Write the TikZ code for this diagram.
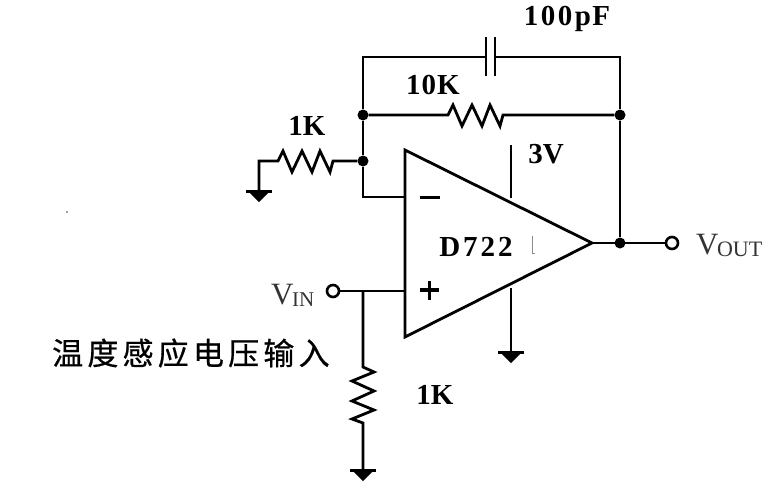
\documentclass[tikz,border=0pt]{standalone}
\usepackage{fontspec}
\setmainfont{Liberation Serif}
\newfontfamily\cjk[FakeBold=0.6]{Noto Sans CJK SC}
\usetikzlibrary{calc}
\newcommand{\zigH}{-- ++(5,-10) -- ++(9,21) -- ++(10,-21) -- ++(10,21) -- ++(8,-21) -- ++(10,21) -- ++(3,-11)}
\newcommand{\zigV}{-- ++(11,5) -- ++(-22,9) -- ++(22,10) -- ++(-22,10) -- ++(22,9) -- ++(-22,9) -- ++(11,4)}
\newcommand{\gnd}[1]{\fill (#1) ++(-13,-1.5) rectangle ++(26,3.5); \fill (#1) ++(-11,0) -- ++(22,0) -- ++(-11,11) -- cycle;}
\tikzset{
  wire/.style={line width=2.8pt,line cap=butt,line join=miter},
  dotnode/.style={circle,fill=black,inner sep=0pt,minimum size=11pt},
  term/.style={circle,draw=black,line width=2.6pt,fill=white,inner sep=0pt,minimum size=12pt},
  val/.style={font=\fontsize{29}{29}\selectfont\bfseries,inner sep=0pt,text=black},
  port/.style={font=\fontsize{31}{31}\selectfont,inner sep=0pt,text=black!80,anchor=base west}
}
\begin{document}
\begin{tikzpicture}[x=1pt,y=-1pt]
\useasboundingbox (0,0) rectangle (777,485);
% junctions and terminals
\coordinate (tl) at (363,57);
\coordinate (tr) at (620,57);
\coordinate (capL) at (486,57);
\coordinate (capR) at (495,57);
\node[dotnode] (j1) at (363,115) {};
\node[dotnode] (j2) at (363,161) {};
\node[dotnode] (j3) at (620,115) {};
\node[dotnode] (j4) at (620,243) {};
\coordinate (r1a) at (448,115);
\coordinate (r2a) at (278,161);
\coordinate (gl) at (259,161);
\coordinate (gl2) at (259,191);
\coordinate (inv) at (363,197);
\coordinate (invp) at (405,197);
\coordinate (nin) at (405,291);
\coordinate (nj) at (363,291);
\coordinate (r3a) at (363,367);
\coordinate (g3) at (363,470);
\coordinate (oa1) at (405,150);
\coordinate (oa2) at (405,337);
\coordinate (oa3) at (592,243);
\coordinate (p1a) at (511,145);
\coordinate (p1b) at (511,198);
\coordinate (p2a) at (511,288);
\coordinate (g2) at (511,352);
\node[term] (vout) at (672,243) {};
\node[term] (vin) at (333,291) {};
% wires
\draw[wire] (capL) -- (tl) -- (j1) -- (j2) -- (inv) -- (invp);
\draw[wire] (capR) -- (tr) -- (j3) -- (j4);
\draw[wire] (j1) -- (r1a) \zigH -- (j3);
\draw[wire] (gl2) -- (gl) -- (r2a) \zigH -- (j2);
\draw[wire] (vin) -- (nin);
\draw[wire] (nj) -- (r3a) \zigV -- (g3);
\draw[wire] (oa3) -- (vout);
\draw[wire] (p1a) -- (p1b);
\draw[wire] (p2a) -- (g2);
% capacitor plates
\draw[wire] (486,37) -- (486,76);
\draw[wire] (495,37) -- (495,76);
% op-amp
\draw[wire] (oa1) -- (oa3) -- (oa2) -- cycle;
\draw[line width=3pt] (420,197) -- (440,197);
\draw[line width=3.2pt] (420,290) -- (439,290) (429.5,281) -- (429.5,300);
% grounds
\gnd{gl2}
\gnd{g2}
\gnd{g3}
% labels
\node[val] (l100) at (567,19) {1\kern2.5pt0\kern2.5pt0\kern2.5pt p\kern1.5pt F};
\node[val] (l10k) at (433,85) {1\kern1pt0\kern1pt K};
\node[val] (l1ka) at (307,126) {1K};
\node[val] (l3v) at (546,154) {3V};
\node[val] (lop) at (476,247) {D\kern3pt7\kern3pt2\kern3pt2};
\node[val] (l1kb) at (435,395) {1K};
\node[port] (lvout) at (696,254) {V\kern-1.5pt\raisebox{-2pt}{\fontsize{22}{22}\selectfont OUT}};
\node[port] (lvin) at (271,304) {V\kern-1.5pt\raisebox{-2pt}{\fontsize{21}{21}\selectfont IN}};
\node[inner sep=0pt,anchor=west,font=\fontsize{31}{31}\selectfont\cjk] (lcn) at (52,353) {温\kern4.2pt度\kern4.2pt感\kern4.2pt应\kern4.2pt电\kern4.2pt压\kern4.2pt输\kern4.2pt入};
% faint specks
\draw[black!45,line width=0.8pt] (532.5,236) -- (532.5,253) -- (535,253);
\fill[black!50] (67,212) circle (1.2);
\end{tikzpicture}
\end{document}
